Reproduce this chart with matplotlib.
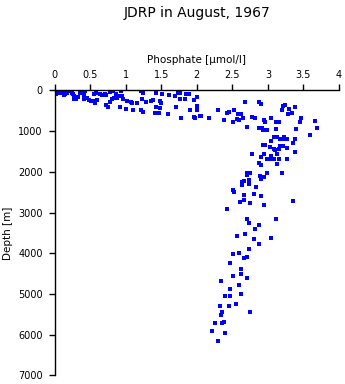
import numpy as np
from matplotlib import pyplot as plt

# phosphate [umol/l] and depth [m]
phos_top = [0.00,0.04,0.07,0.11,0.14,0.18,0.21,0.24,0.02,0.08,0.13,0.26,0.28,0.30,0.27,0.33,0.36,0.40,0.43,0.42,
            0.46,0.41,0.48,0.52,0.56,0.57,0.60,0.55,0.59,0.64,0.67,0.71,0.73,0.78,0.82,0.86,0.84,0.81,0.88,0.90,
            0.95,0.93,0.96,1.02,1.07,1.09,1.16,1.23,1.22,1.25,1.28,1.35,0.73,0.75,0.92,1.00,1.10,1.21,1.24,0.78,
            0.15,0.05,0.19]
depth_top = [12,0,37,5,0,53,20,70,94,70,118,94,135,200,200,150,53,12,12,118,
             176,217,233,258,258,299,233,94,70,94,118,94,118,37,12,94,176,217,176,135,
             135,12,200,258,283,299,315,217,12,53,283,258,364,397,397,462,487,487,528,283,
             94,53,0]

phos_mid = [1.43,1.51,1.39,1.48,1.50,1.42,1.48,1.41,1.47,1.61,1.69,1.73,1.76,1.77,1.84,1.85,1.89,1.96,2.00,2.01,
            2.00,1.90,1.96,1.97,2.04,2.06,1.71,1.60,1.78,2.17,2.30,2.38,2.43,2.45,2.52,2.51,2.56,2.59,2.58,2.62,
            2.65,2.68,2.71]
depth_mid = [53,94,233,258,299,397,422,560,560,118,135,53,70,200,217,94,94,233,150,381,
             479,487,643,668,627,627,397,585,684,684,487,733,545,528,487,766,708,733,585,585,
             684,283,897]

phos_max = [2.88,2.90,3.21,3.24,3.20,3.30,3.38,3.34,3.28,3.46,3.45,3.66,3.69,3.59,2.77,2.82,2.94,2.96,3.05,3.12,
            3.16,3.12,2.87,2.92,2.93,2.99,3.05,3.08,3.13,3.17,3.22,3.27,3.23,3.40,3.38,3.36,3.17,3.16,3.21,3.27,
            3.08,3.10,3.03,2.93,2.96,2.77,2.90,2.94,3.13,3.05,2.99,3.03,3.08,3.15,3.27,3.38,2.88,2.90,3.13]
depth_max = [283,339,381,364,479,462,405,560,585,668,766,749,930,1100,643,684,725,766,676,766,
             766,938,914,930,971,979,1241,1135,1143,1200,1135,1200,1200,955,1200,1298,1364,1430,1364,1421,
             1446,1470,1380,1347,1347,1553,1627,1568,1568,1610,1676,1692,1676,1676,1676,1511,1789,1823,1814]

phos_deep = [2.70,2.70,2.75,2.89,2.94,2.91,2.99,3.20,2.63,2.66,2.64,2.73,2.74,2.84,2.51,2.53,2.67,2.80,2.90,2.61,
             2.67,2.75,2.94,3.36,2.42,2.70,3.11,
             2.73,2.87,2.82,2.68,2.56,2.80,3.05,2.88,2.73,2.51,2.60,2.66,2.71,2.47,2.62,2.62,2.51,2.70,2.34,
             2.47,2.60,2.40,2.47,2.62,2.32,2.45,2.55,2.34,2.36,2.75,2.25,2.36,2.38,2.22,2.40,2.30]
depth_deep = [2020,2076,2035,2093,2118,2167,2035,2035,2240,2216,2330,2199,2297,2363,2445,2502,2568,2543,2601,2740,
              2690,2772,2821,2715,2919,3157,3157,
              3263,3297,3411,3534,3567,3649,3632,3779,3902,4025,4000,4123,4099,4246,4394,4516,4566,4615,4688,
              4885,4787,5057,5057,5008,5303,5295,5254,5524,5450,5450,5705,5720,5688,5917,5966,6147]

xticks = [0, 0.5, 1, 1.5, 2, 2.5, 3, 3.5, 4]
xticklabels = ['0', '0.5', '1', '1.5', '2', '2.5', '3', '3.5', '4']
yticks = [0, 1000, 2000, 3000, 4000, 5000, 6000, 7000]

phos = np.array(phos_top + phos_mid + phos_max + phos_deep)
depth = np.array(depth_top + depth_mid + depth_max + depth_deep)

plt.rcParams['font.family'] = ['DejaVu Sans']
fig = plt.figure(figsize=(3.45, 3.84), dpi=100)
ax = fig.add_axes([0.158, 0.0224, 0.8246, 0.742])

ax.plot(phos, depth, 's', color='#0000ff', ms=2.3, mew=0)

ax.set_xlim(0, 4)
ax.set_ylim(7000, 0)
ax.xaxis.set_ticks_position('top')
ax.xaxis.set_label_position('top')
ax.set_xticks(xticks)
ax.set_xticklabels(xticklabels)
ax.set_yticks(yticks)
ax.tick_params(axis='x', direction='out', length=4, width=1, pad=3.5, labelsize=7)
ax.tick_params(axis='y', direction='out', length=4, width=1, pad=4.5, labelsize=7)
ax.spines['right'].set_visible(False)
ax.spines['bottom'].set_visible(False)
ax.spines['top'].set_linewidth(1)
ax.spines['left'].set_linewidth(1)

ax.set_xlabel('Phosphate [µmol/l]', fontsize=7.5, labelpad=5)
ax.set_ylabel('Depth [m]', fontsize=7.5, labelpad=4)
fig.text(0.57, 0.965, 'JDRP in August, 1967', ha='center', va='center', fontsize=10)

fig.savefig('out.png', dpi=100)
